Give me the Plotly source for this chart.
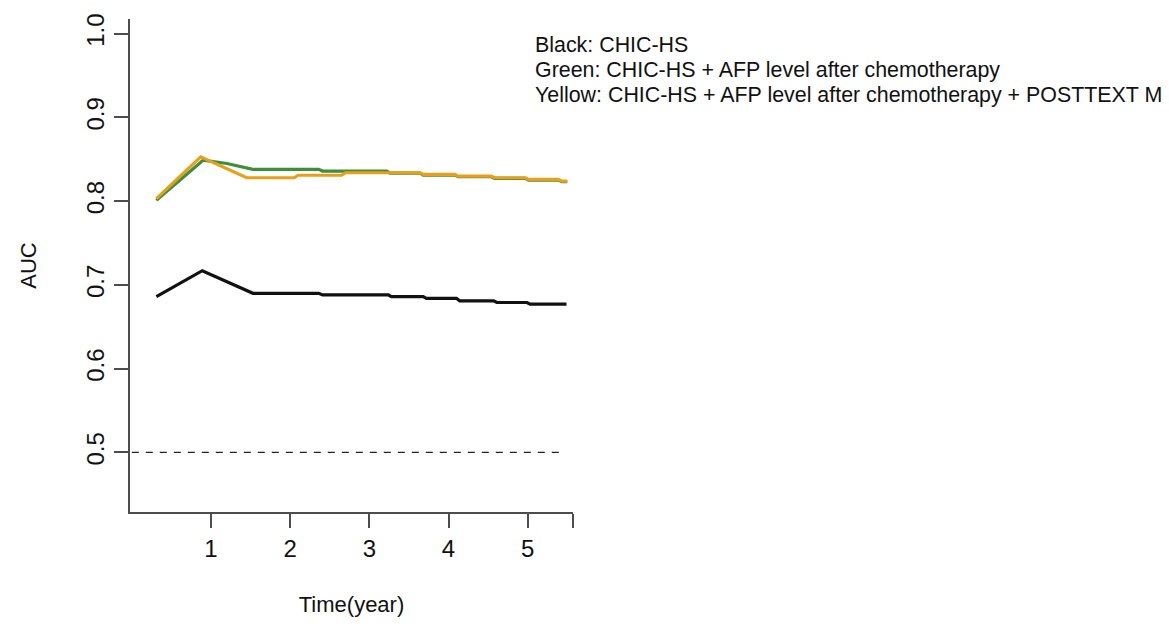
import plotly.graph_objects as go

# Time-dependent AUC for three prognostic models
t_black = [0.31, 0.89, 1.53, 2.36, 2.41, 3.24, 3.28, 3.68, 3.72, 4.10, 4.14, 4.57, 4.61, 4.99, 5.03, 5.49]
auc_black = [0.686, 0.717, 0.690, 0.690, 0.688, 0.688, 0.686, 0.686, 0.684, 0.684, 0.681, 0.681, 0.679, 0.679, 0.677, 0.677]

t_green = [0.31, 0.90, 1.20, 1.53, 2.36, 2.41, 3.22, 3.26, 3.64, 3.68, 4.08, 4.12, 4.54, 4.58, 4.97, 5.01, 5.39, 5.43, 5.50]
auc_green = [0.801, 0.849, 0.845, 0.838, 0.838, 0.836, 0.836, 0.8335, 0.8335, 0.8312, 0.8312, 0.8292, 0.8292, 0.8272, 0.8272, 0.8252, 0.8252, 0.8232, 0.8232]

t_yellow = [0.31, 0.87, 1.45, 2.05, 2.10, 2.65, 2.70, 3.64, 3.68, 4.08, 4.12, 4.54, 4.58, 4.97, 5.01, 5.39, 5.43, 5.50]
auc_yellow = [0.803, 0.853, 0.828, 0.828, 0.831, 0.831, 0.834, 0.834, 0.832, 0.832, 0.830, 0.830, 0.828, 0.828, 0.826, 0.826, 0.824, 0.824]

# Reference line at AUC = 0.5
ref_t = [0.0, 5.45]
ref_auc = [0.5, 0.5]

x_ticks = [1, 2, 3, 4, 5, 5.572]
x_tick_text = ["1", "2", "3", "4", "5", ""]
y_ticks = [0.5, 0.6, 0.7, 0.8, 0.9, 1.0]
y_tick_text = ["0.5", "0.6", "0.7", "0.8", "0.9", "1.0"]

notes = [
    "Black: CHIC-HS",
    "Green: CHIC-HS + AFP level after chemotherapy",
    "Yellow: CHIC-HS + AFP level after chemotherapy + POSTTEXT M",
]

FONT = "Liberation Sans, Arial, sans-serif"
AXIS_COLOR = "#4d4d4d"
TEXT_COLOR = "#111111"

fig = go.Figure()
fig.add_trace(go.Scatter(x=ref_t, y=ref_auc, mode="lines",
                         line=dict(color="#222222", width=1.4, dash="7px,7px"),
                         hoverinfo="skip"))
fig.add_trace(go.Scatter(x=t_black, y=auc_black, mode="lines",
                         line=dict(color="#111111", width=3.2)))
fig.add_trace(go.Scatter(x=t_green, y=auc_green, mode="lines",
                         line=dict(color="#3f8f3a", width=3.2)))
fig.add_trace(go.Scatter(x=t_yellow, y=auc_yellow, mode="lines",
                         line=dict(color="#e6a01c", width=3.2)))

annotations = []
for i, txt in enumerate(notes):
    annotations.append(dict(
        text=txt, xref="paper", yref="paper",
        x=0.9105, y=0.948 - i * 0.0508,
        xanchor="left", yanchor="middle", showarrow=False,
        font=dict(family=FONT, size=21.4, color=TEXT_COLOR),
    ))

fig.update_layout(
    width=1169, height=626,
    margin=dict(l=130, r=596, t=19, b=114),
    paper_bgcolor="white", plot_bgcolor="white",
    showlegend=False,
    font=dict(family=FONT, size=22, color=TEXT_COLOR),
    annotations=annotations,
    xaxis=dict(
        range=[-0.023, 5.572], tickmode="array",
        tickvals=x_ticks, ticktext=x_tick_text,
        showgrid=False, zeroline=False,
        showline=True, linecolor=AXIS_COLOR, linewidth=2,
        ticks="outside", ticklen=14, tickwidth=2, tickcolor=AXIS_COLOR,
        tickfont=dict(family=FONT, size=24, color=TEXT_COLOR),
        title=dict(text="Time(year)", standoff=36,
                   font=dict(family=FONT, size=22, color=TEXT_COLOR)),
    ),
    yaxis=dict(
        range=[0.4288, 1.0176], tickmode="array",
        tickvals=y_ticks, ticktext=y_tick_text, tickangle=-90,
        showgrid=False, zeroline=False,
        showline=True, linecolor=AXIS_COLOR, linewidth=2,
        ticks="outside", ticklen=14, tickwidth=2, tickcolor=AXIS_COLOR,
        tickfont=dict(family=FONT, size=24, color=TEXT_COLOR),
        title=dict(text="AUC", standoff=40,
                   font=dict(family=FONT, size=22, color=TEXT_COLOR)),
    ),
)

fig.write_html("out.html")
